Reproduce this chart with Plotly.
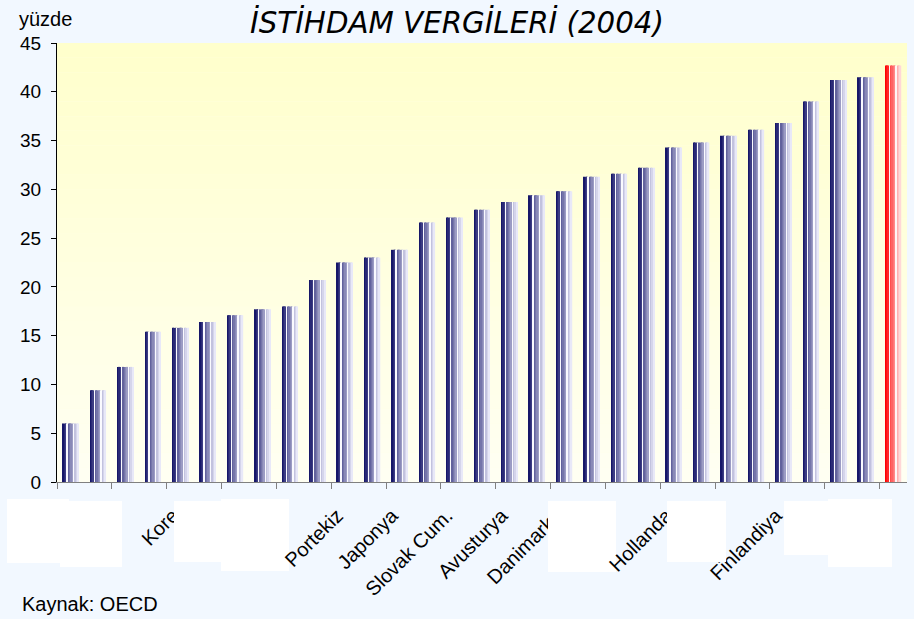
import plotly.graph_objects as go

# ---- data ----
labels = ["", "", "", "", "Kore", "", "", "", "", "", "Portekiz", "", "Japonya", "",
          "Slovak Cum.", "", "Avusturya", "", "Danimarka", "", "", "", "Hollanda", "",
          "", "", "Finlandiya", "", "", "", ""]
values = [6.0, 9.4, 11.8, 15.4, 15.8, 16.4, 17.1, 17.7, 18.0, 20.7, 22.5, 23.0, 23.8,
          26.6, 27.1, 27.9, 28.7, 29.4, 29.8, 31.3, 31.6, 32.2, 34.3, 34.8, 35.5, 36.1,
          36.8, 39.0, 41.2, 41.5, 42.7]
highlight = [False] * 30 + [True]
y_ticks = [0, 5, 10, 15, 20, 25, 30, 35, 40, 45]

x = list(range(len(values)))

def mix(c1, c2, t):
    return "rgb(%d,%d,%d)" % tuple(round(a + (b - a) * t) for a, b in zip(c1, c2))

n_strips = 12
gap_strips = {3, 8}
fig = go.Figure()
for s in range(n_strips):
    t = s / (n_strips - 1)
    cols = []
    for h in highlight:
        if s in gap_strips:
            cols.append("rgb(250,250,255)" if not h else "rgb(255,245,245)")
        elif h:
            cols.append(mix((255, 0, 0), (255, 215, 215), t))
        else:
            cols.append(mix((22, 22, 105), (232, 232, 248), t))
    fig.add_trace(go.Bar(x=x, y=values, marker=dict(color=cols, line=dict(width=0)),
                         showlegend=False, hoverinfo="skip"))

# background gradient of plot area
n_bands = 30
for b in range(n_bands):
    t = b / (n_bands - 1)
    fig.add_shape(type="rect", xref="x domain", yref="y domain",
                  x0=0, x1=1, y0=b / n_bands, y1=(b + 1) / n_bands,
                  fillcolor=mix((255, 255, 242), (255, 255, 204), t),
                  line=dict(width=0), layer="below")

# white patches over label area (pixel boxes, last flag = drawn above labels)
patches = [(7, 499, 69, 563, True), (60, 501, 122, 567, True), (174, 501, 222, 562, True),
           (221, 499, 289, 571, False), (548, 501, 600, 572, True), (600, 501, 616, 572, False),
           (667, 501, 726, 562, True), (784, 501, 828, 555, True), (828, 499, 892, 567, True)]
W, H = 914, 619
for x0, y0, x1, y1, above in patches:
    fig.add_shape(type="rect", xref="paper", yref="paper",
                  x0=(x0 - 57) / 850, x1=(x1 - 57) / 850,
                  y0=(482 - y1) / 439, y1=(482 - y0) / 439,
                  fillcolor="white", line=dict(width=0),
                  layer="above" if above else "below")

label_shift = 0.28  # label anchor offset (category units), as in the source chart

fig.update_layout(
    width=W, height=H,
    margin=dict(l=57, r=7, t=43, b=137),
    paper_bgcolor="#F2F8FF",
    plot_bgcolor="#FFFFE6",
    barmode="group", bargap=0.42, bargroupgap=0,
    font=dict(family="Liberation Sans, Arial", size=19, color="black"),
    title=dict(text="İSTİHDAM VERGİLERİ (2004)", x=0.5, xanchor="center", y=1 - 23 / 619, yanchor="middle",
               font=dict(family="DejaVu Sans", size=29.3, style="italic", color="black")),
    xaxis=dict(range=[-0.5, len(values) - 0.5], tickmode="array",
               tickvals=[i - label_shift for i in x if i % 2 == 0],
               ticktext=[labels[i] for i in x if i % 2 == 0],
               tickangle=-45, ticks="", showgrid=False, zeroline=False,
               showline=True, linecolor="#808080", linewidth=1,
               tickfont=dict(size=20), ticklabelstandoff=13,
               minor=dict(tickmode="array", tickvals=[i - 0.5 for i in x if i % 2 == 0],
                          ticks="outside", ticklen=6, tickcolor="#808080", showgrid=False)),
    yaxis=dict(range=[0, 45], tickmode="array", tickvals=y_ticks,
               ticks="outside", ticklen=5, tickcolor="black",
               showline=True, linecolor="black", linewidth=1,
               showgrid=False, zeroline=False, tickfont=dict(size=19), ticklabelstandoff=6),
    annotations=[
        dict(text="yüzde", xref="paper", yref="paper", x=(17 - 57) / 850, y=(482 - 19) / 439,
             xanchor="left", yanchor="middle", showarrow=False, font=dict(size=20)),
        dict(text="Kaynak: OECD", xref="paper", yref="paper", x=(20 - 57) / 850, y=(482 - 604) / 439,
             xanchor="left", yanchor="middle", showarrow=False, font=dict(size=20)),
    ],
)

fig.write_html("out.html", config={"displayModeBar": False},
               post_script="document.body.style.margin='0';document.body.style.padding='0';")
